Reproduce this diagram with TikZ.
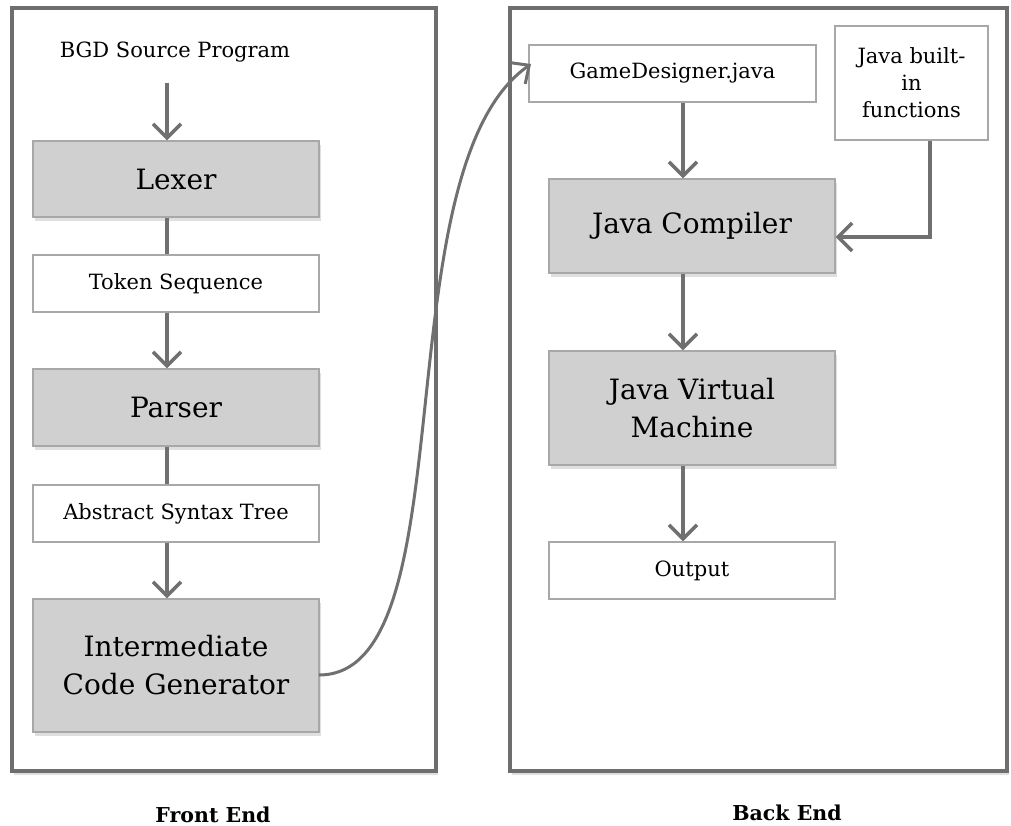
\documentclass[tikz,border=0pt]{standalone}
\usepackage{fontspec}
\setmainfont{DejaVu Serif}
\usetikzlibrary{arrows.meta,shadows,calc}
\definecolor{framegray}{HTML}{6E6E6E}
\definecolor{boxfill}{HTML}{D0D0D0}
\definecolor{boxline}{HTML}{A8A8A8}
\definecolor{arrowgray}{HTML}{707070}
\tikzset{
  panel/.style={draw=framegray,line width=4pt,fill=white,
    drop shadow={shadow xshift=2pt,shadow yshift=-4pt,opacity=0.25}},
  procbox/.style={draw=boxline,line width=1.2pt,fill=boxfill,align=center,
    font=\fontsize{28}{38}\selectfont,inner sep=0pt,
    drop shadow={shadow xshift=2pt,shadow yshift=-4pt,opacity=0.25}},
  databox/.style={draw=boxline,line width=1.2pt,fill=white,align=center,
    font=\fontsize{21}{27}\selectfont,inner sep=0pt},
  plaintext/.style={font=\fontsize{21}{27}\selectfont,inner sep=0pt},
  caption/.style={font=\fontsize{20.5}{24}\selectfont\bfseries,inner sep=0pt},
  flow/.style={draw=arrowgray,line width=4pt},
  flowarrow/.style={flow,-{Straight Barb[length=14pt,width=28pt,line width=3.5pt]}},
}
\begin{document}
\begin{tikzpicture}[x=1pt,y=-1pt]
\useasboundingbox (0,0) rectangle (1011,826);
% panels
\draw[panel] (12,8) rectangle (436,771);
\draw[panel] (510,8) rectangle (1007,771);
% front end
\node[plaintext] (src) at (175,52) {BGD Source Program};
\node[procbox,minimum width=286pt,minimum height=76pt] (lexer) at (176,179) {Lexer};
\node[databox,minimum width=286pt,minimum height=57pt] (tok) at (176,283.5) {Token Sequence};
\node[procbox,minimum width=286pt,minimum height=77pt] (parser) at (176,407.5) {Parser};
\node[databox,minimum width=286pt,minimum height=57pt] (ast) at (176,513.5) {Abstract Syntax Tree};
\node[procbox,minimum width=286pt,minimum height=133pt] (icg) at (176,665.5) {Intermediate\\Code Generator};
\coordinate (colL) at (167,0);
\coordinate (srcend) at (167,83);
\draw[flowarrow] (srcend) -- (lexer.north -| colL);
\draw[flow] (lexer.south -| colL) -- (tok.north -| colL);
\draw[flowarrow] (tok.south -| colL) -- (parser.north -| colL);
\draw[flow] (parser.south -| colL) -- (ast.north -| colL);
\draw[flowarrow] (ast.south -| colL) -- (icg.north -| colL);
% back end
\node[databox,minimum width=287pt,minimum height=57pt] (gd) at (672.5,73.5) {GameDesigner.java};
\node[databox,minimum width=153pt,minimum height=114pt] (builtin) at (911.5,83) {Java built-\\in\\functions};
\node[procbox,minimum width=286pt,minimum height=94pt] (javac) at (692,226) {Java Compiler};
\node[procbox,minimum width=286pt,minimum height=114pt] (jvm) at (692,408) {Java Virtual\\Machine};
\node[databox,minimum width=286pt,minimum height=57pt] (out) at (692,570.5) {Output};
\coordinate (colR) at (683,0);
\coordinate (bend) at (930,237);
\draw[flowarrow] (gd.south -| colR) -- (javac.north -| colR);
\draw[flowarrow] (javac.south -| colR) -- (jvm.north -| colR);
\draw[flowarrow] (jvm.south -| colR) -- (out.north -| colR);
\draw[flowarrow] (builtin.south -| bend) -- (bend) -- (javac.east |- bend);
% cross connector
\coordinate (icgout) at (319,675);
\coordinate (gdin) at (531,64);
\draw[draw=arrowgray,line width=3pt,-{Straight Barb[length=14pt,width=26pt,line width=3pt]}]
  (icgout) .. controls (470,675) and (380,170) .. (gdin);
% captions
\node[caption] (fe) at (213,815) {Front End};
\node[caption] (be) at (787,813) {Back End};
\end{tikzpicture}
\end{document}
